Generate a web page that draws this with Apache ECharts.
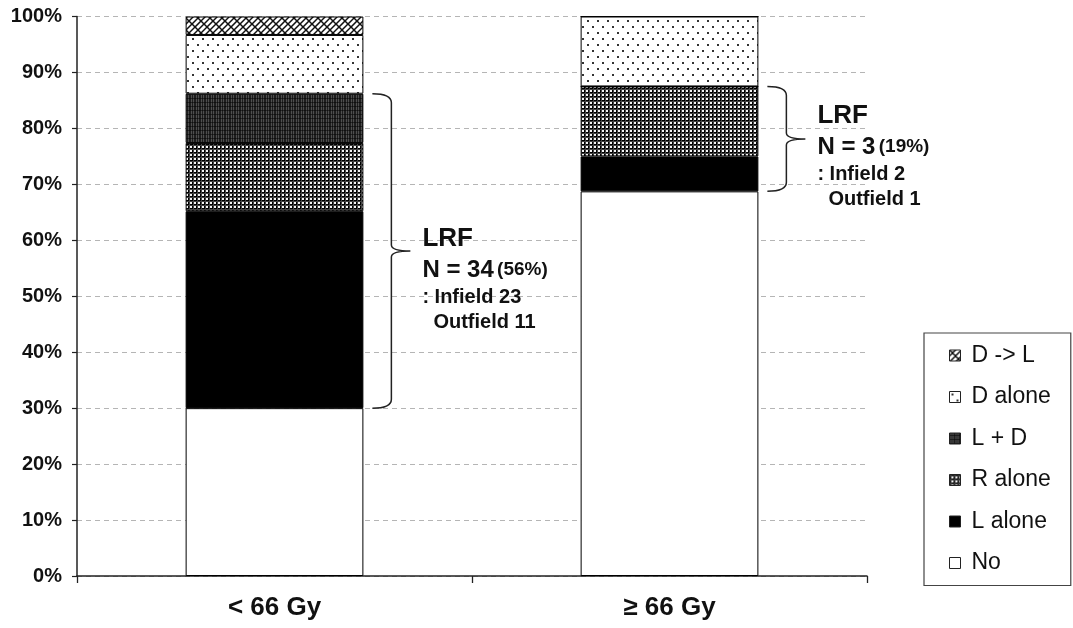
<!DOCTYPE html>
<html>
<head>
<meta charset="utf-8">
<script src="https://cdn.jsdelivr.net/npm/echarts@6/dist/echarts.min.js"></script>
<style>
  html, body { margin: 0; padding: 0; background: #fff; }
  #chart { width: 1073px; height: 628px; }
</style>
</head>
<body>
<div id="chart"></div>
<script>
// Dose groups on the x axis
const categories = ['< 66 Gy', '≥ 66 Gy'];

// Failure pattern shares (% of patients in each dose group)
const seriesNames = ['No', 'L alone', 'R alone', 'L + D', 'D alone', 'D -> L'];
const noFailure = [30.0, 68.75];
const localAlone = [35.2, 6.25];
const regionalAlone = [12.2, 12.5];
const localDistant = [8.8, 0];
const distantAlone = [10.5, 12.5];
const distantThenLocal = [3.3, 0];

// Loco-regional failure summary per dose group
const lrfCount = [34, 3];
const lrfPercent = [56, 19];
const infieldCount = [23, 2];
const outfieldCount = [11, 1];

const yTicks = [0, 10, 20, 30, 40, 50, 60, 70, 80, 90, 100];

const FONT = "'Liberation Sans', Arial, sans-serif";
const INK = '#111';

function tile(w, h, draw) {
  const c = document.createElement('canvas');
  c.width = w; c.height = h;
  const g = c.getContext('2d');
  draw(g, w, h);
  return { image: c, repeat: 'repeat' };
}

// Fill patterns for the stacked segments
const fills = {
  'No': '#ffffff',
  'L alone': '#000000',
  'R alone': tile(4, 4, (g) => {
    g.fillStyle = '#fff'; g.fillRect(0, 0, 4, 4);
    g.fillStyle = '#000'; g.fillRect(0, 0, 4, 1); g.fillRect(0, 0, 1, 4);
    g.fillStyle = '#444'; g.fillRect(0, 1, 4, 1); g.fillRect(1, 0, 1, 4);
    g.fillStyle = '#f4f4f4'; g.fillRect(2, 2, 2, 2);
  }),
  'L + D': tile(5, 4, (g) => {
    g.fillStyle = '#1e1e1e'; g.fillRect(0, 0, 5, 4);
    g.fillStyle = 'rgba(255,255,255,0.22)'; g.fillRect(1, 0, 1, 4); g.fillRect(3, 0, 1, 4);
    g.fillStyle = 'rgba(0,0,0,0.5)'; g.fillRect(0, 2, 5, 1);
  }),
  'D alone': tile(10, 12, (g) => {
    g.fillStyle = '#fff'; g.fillRect(0, 0, 10, 12);
    g.fillStyle = '#333';
    g.fillRect(2, 2, 2, 2); g.fillRect(7, 8, 2, 2);
  }),
  'D -> L': tile(12, 12, (g) => {
    g.fillStyle = '#fff'; g.fillRect(0, 0, 12, 12);
    g.strokeStyle = '#111'; g.lineWidth = 1.5;
    [0, 6, 12, 18, 24].forEach((c) => { g.beginPath(); g.moveTo(c + 20, -20); g.lineTo(c - 20, 20); g.stroke(); });
    [-12, 0, 12].forEach((c) => { g.beginPath(); g.moveTo(c - 20, -20); g.lineTo(c + 20, 20); g.stroke(); });
  })
};

const values = [noFailure, localAlone, regionalAlone, localDistant, distantAlone, distantThenLocal];

const barSeries = seriesNames.map((name, k) => ({
  name: name,
  type: 'bar',
  stack: 'all',
  barWidth: '45%',
  data: values[k],
  itemStyle: { color: fills[name], borderColor: '#000', borderWidth: 1 },
  emphasis: { disabled: true }
}));

// Bracket span: from top of "No" to top of the last loco-regional segment
const bracketData = categories.map((c, i) => [
  i,
  noFailure[i],
  noFailure[i] + localAlone[i] + regionalAlone[i] + localDistant[i],
  lrfCount[i], lrfPercent[i], infieldCount[i], outfieldCount[i]
]);

// Vertical shift of the annotation text block relative to bracket tip
const textShift = [-12, -23];

const bracketSeries = {
  type: 'custom',
  coordinateSystem: 'cartesian2d',
  silent: true,
  z: 10,
  data: bracketData,
  encode: { x: 0, y: [1, 2] },
  renderItem: function (params, api) {
    const i = api.value(0);
    const lo = api.coord([i, api.value(1)]);
    const hi = api.coord([i, api.value(2)]);
    const half = api.size([1, 0])[0] * 0.45 / 2;
    const xr = lo[0] + half;
    const x0 = xr + 9, x1 = xr + 28, tip = xr + 47;
    const yt = hi[1], yb = lo[1], ym = (yt + yb) / 2;
    const r = 9;
    const path = [
      'M', x0, yt,
      'Q', x1, yt, x1, yt + r,
      'L', x1, ym - 6,
      'Q', x1, ym, tip, ym,
      'Q', x1, ym, x1, ym + 6,
      'L', x1, yb - r,
      'Q', x1, yb, x0, yb
    ].join(' ');
    const tx = xr + 59;
    const ty = ym + textShift[i];
    const n = api.value(3), pct = api.value(4), inf = api.value(5), outf = api.value(6);
    return {
      type: 'group',
      children: [
        { type: 'path', shape: { pathData: path }, style: { fill: 'none', stroke: '#222', lineWidth: 1.5 } },
        { type: 'text', x: tx, y: ty, style: { text: 'LRF', font: 'bold 26px ' + FONT, fill: INK, verticalAlign: 'middle' } },
        { type: 'text', x: tx, y: ty + 31, style: {
            text: '{a|N = ' + n + '} {b|(' + pct + '%)}',
            verticalAlign: 'middle',
            rich: {
              a: { font: 'bold 24px ' + FONT, fill: INK },
              b: { font: 'bold 19px ' + FONT, fill: INK }
            }
          } },
        { type: 'text', x: tx, y: ty + 59, style: { text: ': Infield ' + inf, font: 'bold 20px ' + FONT, fill: INK, verticalAlign: 'middle' } },
        { type: 'text', x: tx + 11, y: ty + 84, style: { text: 'Outfield ' + outf, font: 'bold 20px ' + FONT, fill: INK, verticalAlign: 'middle' } }
      ]
    };
  }
};

const chart = echarts.init(document.getElementById('chart'), null, { renderer: 'canvas' });
chart.setOption({
  animation: false,
  backgroundColor: '#fff',
  grid: { left: 77, right: 206, top: 16.5, bottom: 52, containLabel: false },
  legend: {
    orient: 'vertical',
    left: 924,
    top: 333,
    data: seriesNames.slice().reverse(),
    icon: 'rect',
    itemWidth: 11,
    itemHeight: 11,
    itemGap: 18.5,
    padding: [11, 20, 11, 25],
    borderColor: '#444',
    borderWidth: 1.2,
    selectedMode: false,
    itemStyle: { borderColor: '#222', borderWidth: 1 },
    textStyle: { fontFamily: FONT, fontSize: 23, color: INK, lineHeight: 23, padding: [0, 0, 0, 6] }
  },
  xAxis: {
    type: 'category',
    data: categories,
    axisLine: { lineStyle: { color: '#222', width: 1.5 } },
    axisTick: { show: true, length: 7, lineStyle: { color: '#222', width: 1.3 } },
    axisLabel: { fontFamily: FONT, fontSize: 26, fontWeight: 'bold', color: INK, margin: 19 },
    splitLine: { show: false }
  },
  yAxis: {
    type: 'value',
    min: 0,
    max: 100,
    interval: 10,
    axisLine: { show: true, lineStyle: { color: '#222', width: 1.5 } },
    axisTick: { show: true, length: 5, lineStyle: { color: '#222', width: 1.2 } },
    axisLabel: {
      fontFamily: FONT, fontSize: 20, fontWeight: 'bold', color: INK, margin: 15,
      formatter: (v) => (yTicks.indexOf(v) >= 0 ? v + '%' : '')
    },
    splitLine: { show: true, lineStyle: { color: '#b5b5b5', type: [5, 4], width: 1 } }
  },
  series: barSeries.concat([bracketSeries])
});
</script>
</body>
</html>
